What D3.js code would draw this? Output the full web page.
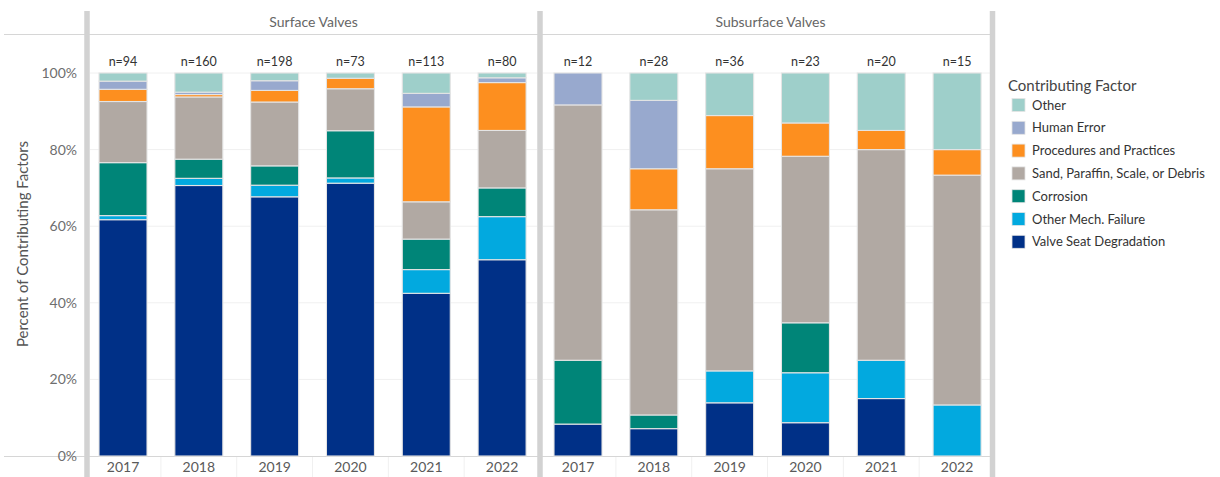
<!DOCTYPE html>
<html><head><meta charset="utf-8">
<script src="https://cdn.jsdelivr.net/npm/d3@7"></script>
<style>
html,body{margin:0;padding:0;background:#fff;}
svg{display:block;font-family:Lato,"Open Sans",sans-serif;}
</style></head>
<body><svg id="chart" width="1220" height="477"></svg>
<script>
// ---- data ----
const years = ["2017","2018","2019","2020","2021","2022"];
const panels = ["Surface Valves","Subsurface Valves"];
const factors = ["Valve Seat Degradation","Other Mech. Failure","Corrosion","Sand, Paraffin, Scale, or Debris","Procedures and Practices","Human Error","Other"];
const legendOrder = ["Other","Human Error","Procedures and Practices","Sand, Paraffin, Scale, or Debris","Corrosion","Other Mech. Failure","Valve Seat Degradation"];
const factorColors = ["#003087","#02a9df","#008578","#b1a9a3","#fd8f1f","#98a9ce","#9ecfca"];
const yTicks = [0,0.2,0.4,0.6,0.8,1.0];
const yTickLabels = ["0%","20%","40%","60%","80%","100%"];

const surfaceN = [94,160,198,73,113,80];
const surfaceValveSeat = [58,113,134,52,48,41];
const surfaceOtherMech = [1,3,6,1,7,9];
const surfaceCorrosion = [13,8,10,9,9,6];
const surfaceSand = [15,26,33,8,11,12];
const surfaceProcedures = [3,1,6,2,28,10];
const surfaceHumanError = [2,1,5,0,4,1];
const surfaceOther = [2,8,4,1,6,1];

const subsurfaceN = [12,28,36,23,20,15];
const subsurfaceValveSeat = [1,2,5,2,3,0];
const subsurfaceOtherMech = [0,0,3,3,2,2];
const subsurfaceCorrosion = [2,1,0,3,0,0];
const subsurfaceSand = [8,15,19,10,11,9];
const subsurfaceProcedures = [0,3,5,2,1,1];
const subsurfaceHumanError = [1,5,0,0,0,0];
const subsurfaceOther = [0,2,4,3,3,3];

const panelData = [
  {name: panels[0], n: surfaceN, series: [surfaceValveSeat,surfaceOtherMech,surfaceCorrosion,surfaceSand,surfaceProcedures,surfaceHumanError,surfaceOther]},
  {name: panels[1], n: subsurfaceN, series: [subsurfaceValveSeat,subsurfaceOtherMech,subsurfaceCorrosion,subsurfaceSand,subsurfaceProcedures,subsurfaceHumanError,subsurfaceOther]}
];

// ---- layout ----
const svg = d3.select("#chart");
const yTop = 73, yBot = 456;
const y = d3.scaleLinear().domain([0,1]).range([yBot, yTop]);
const color = d3.scaleOrdinal().domain(factors).range(factorColors);
const panelRanges = [[85.1, 540.0],[540.1, 995.0]];
const paneInner = [[90, 537],[543, 990]];

// gridlines
paneInner.forEach(([a,b]) => {
  svg.append("g").selectAll("line").data(yTicks.slice(1)).join("line")
    .attr("x1", a).attr("x2", b)
    .attr("y1", d => y(d)).attr("y2", d => y(d))
    .attr("stroke", "#f0f0f0").attr("stroke-width", 1);
});

// header line & axis baseline
svg.append("line").attr("x1",4).attr("x2",992).attr("y1",34.5).attr("y2",34.5).attr("stroke","#d6d6d6").attr("stroke-width",1.2);
svg.append("line").attr("x1",4).attr("x2",992).attr("y1",456.5).attr("y2",456.5).attr("stroke","#d6d6d6").attr("stroke-width",1.2);

// y axis
const yAxis = d3.axisLeft(y).tickValues(yTicks).tickFormat((d,i)=>yTickLabels[i]).tickSize(0).tickPadding(0);
const yg = svg.append("g").attr("transform","translate(77,0)").call(yAxis);
yg.select(".domain").remove();
yg.selectAll("text").attr("font-size",14).attr("fill","#6e6e6e").attr("font-family","Lato, sans-serif");

svg.append("text").attr("transform","translate(28,244) rotate(-90)")
  .attr("text-anchor","middle").attr("font-size",15).attr("fill","#555")
  .text("Percent of Contributing Factors");

// panels
panelData.forEach((p, pi) => {
  const x = d3.scaleBand().domain(years).range(panelRanges[pi]).paddingInner(0.367).paddingOuter(0.1835);
  const rows = years.map((yr, i) => {
    const o = {year: yr, n: p.n[i]};
    factors.forEach((f, fi) => o[f] = p.series[fi][i] / p.n[i]);
    return o;
  });
  const stacked = d3.stack().keys(factors)(rows);
  const g = svg.append("g");
  g.selectAll("g.layer").data(stacked).join("g").attr("class","layer")
    .attr("fill", d => color(d.key))
    .selectAll("rect").data(d => d.filter(s => s[1]-s[0] > 0)).join("rect")
    .attr("x", d => x(d.data.year))
    .attr("width", x.bandwidth())
    .attr("y", d => y(d[1]))
    .attr("height", d => y(d[0]) - y(d[1]))
    .attr("stroke","#e4e4e4").attr("stroke-width",1.1);

  // n labels
  g.selectAll("text.n").data(rows).join("text").attr("class","n")
    .attr("x", d => x(d.year) + x.bandwidth()/2).attr("y", 66)
    .attr("text-anchor","middle").attr("font-size",12.5).attr("fill","#333")
    .text(d => "n=" + d.n);

  // x axis
  const xAxis = d3.axisBottom(x).tickSize(0).tickPadding(0);
  const xg = svg.append("g").attr("transform","translate(0,462)").call(xAxis);
  xg.select(".domain").remove();
  xg.selectAll("text").attr("font-size",14).attr("fill","#5a5a5a").attr("dy","0.71em").attr("font-family","Lato, sans-serif");

  // faint separators under axis between years
  svg.append("g").selectAll("line").data(years.slice(1)).join("line")
    .attr("x1", d => x(d) - x.step()*x.paddingInner()/2).attr("x2", d => x(d) - x.step()*x.paddingInner()/2)
    .attr("y1", 457).attr("y2", 477).attr("stroke","#f0f0f0");

  // header
  svg.append("text").attr("x", (paneInner[pi][0]+paneInner[pi][1])/2 + (pi===0?0:4)).attr("y", 27)
    .attr("text-anchor","middle").attr("font-size",14).attr("fill","#666").text(p.name);
});

// thick divider lines
[87, 540, 992.5].forEach(xv => {
  svg.append("line").attr("x1",xv).attr("x2",xv).attr("y1",11).attr("y2",477)
    .attr("stroke","#d2d2d2").attr("stroke-width",5.5);
});

// legend
const lg = svg.append("g").attr("transform","translate(1008,0)");
lg.append("text").attr("x",0).attr("y",91).attr("font-size",15).attr("fill","#444").text("Contributing Factor");
legendOrder.forEach((f, i) => {
  const cy = 105 + i*22.8;
  lg.append("rect").attr("x",4).attr("y",cy-6.5).attr("width",13).attr("height",13).attr("fill",color(f)).attr("stroke","#e4e4e4").attr("stroke-width",0.8);
  lg.append("text").attr("x",24).attr("y",cy+4.5).attr("font-size",13).attr("fill","#333").text(f);
});
</script></body></html>
